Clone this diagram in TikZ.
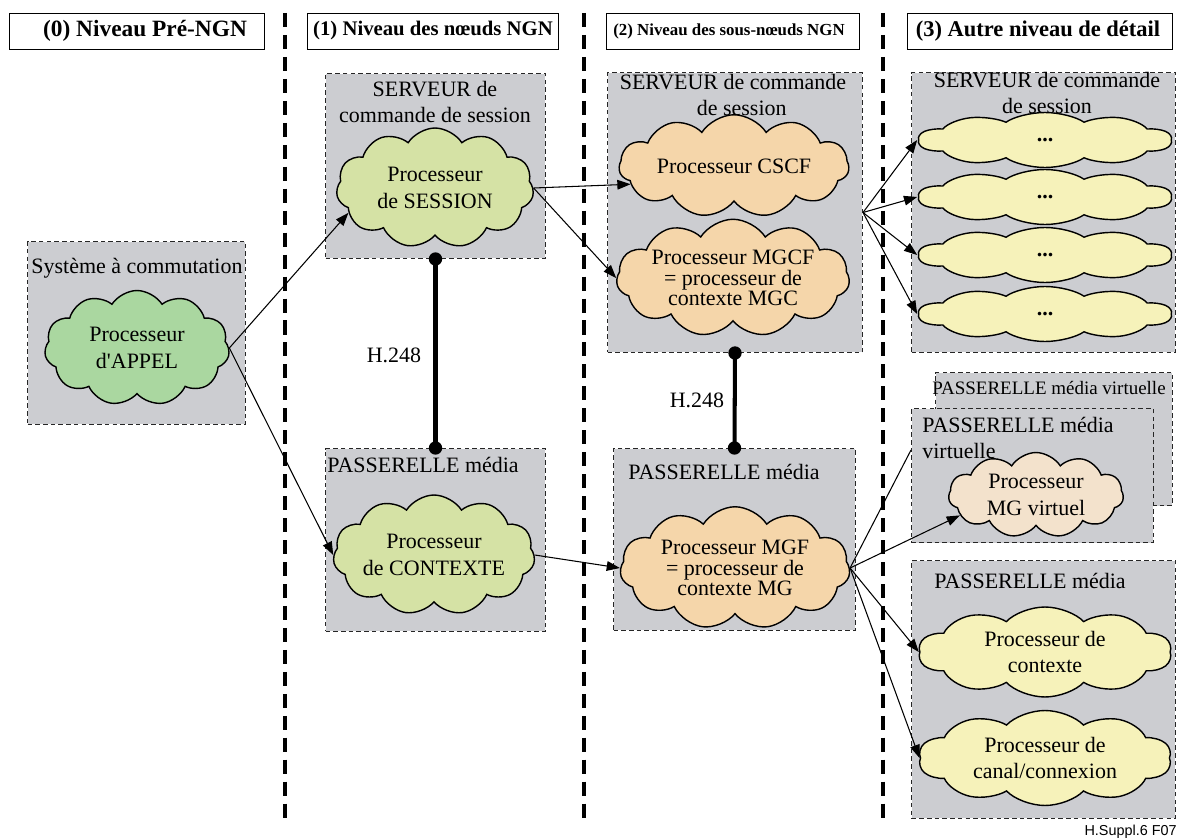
\documentclass[tikz,border=0pt]{standalone}
\usepackage{fontspec}
\setmainfont{Liberation Serif}
\newfontfamily\tagfont{Liberation Sans}
\usetikzlibrary{shapes.symbols,arrows.meta}

\definecolor{panelgray}{RGB}{204,205,209}
\definecolor{callgreen}{RGB}{170,215,160}
\definecolor{nodegreen}{RGB}{213,226,165}
\definecolor{subtan}{RGB}{245,214,170}
\definecolor{detailyellow}{RGB}{246,242,186}
\definecolor{virtualtan}{RGB}{243,226,204}

\newcommand\txtsize{\fontsize{12.5}{15}\selectfont}
\newcommand\tightsize{\fontsize{12.5}{11.6}\selectfont}

\begin{document}
\begin{tikzpicture}[x=0.02cm,y=-0.02cm,
  panel/.style={rectangle, draw=black!85, fill=panelgray, line width=0.6pt,
    dash pattern=on 2.6pt off 1.8pt, inner sep=0pt, anchor=north west},
  header/.style={rectangle, draw=black, line width=0.8pt, fill=white,
    inner sep=0pt, anchor=north west, minimum height=0.72cm},
  proc/.style={cloud, cloud puffs=11, cloud puff arc=115, cloud ignores aspect,
    draw=black, line width=0.8pt, inner sep=0pt, align=center, font=\txtsize},
  % a cloud drawn in a horizontally stretched frame
  longproc/.style={proc, cloud puffs=10, cloud puff arc=115, transform shape},
  lbl/.style={inner sep=0pt, align=center, font=\txtsize},
  link/.style={-{Triangle[length=7.5pt,width=5.5pt]}, line width=0.6pt},
  plain/.style={line width=0.6pt},
  sep/.style={line width=1.8pt, dash pattern=on 8pt off 4.5pt},
  h248/.style={line width=2.3pt},
  dot/.style={fill=black}
]
\useasboundingbox (0,0) rectangle (1181,838);

% level separators
\draw[sep] (285,13) -- (285,820);
\draw[sep] (584,13) -- (584,820);
\draw[sep] (883,13) -- (883,820);

% level headers
\node[header, minimum width=5.10cm] (h0) at (9,13) {};
\node[header, minimum width=5.02cm] (h1) at (307,13) {};
\node[header, minimum width=5.06cm] (h2) at (606,13) {};
\node[header, minimum width=5.30cm] (h3) at (907,13) {};
\node[inner sep=0pt, font=\fontsize{13.3}{15}\selectfont\bfseries] (t0) at (145,31) {(0) Niveau Pré-NGN};
\node[inner sep=0pt, font=\fontsize{11.8}{14}\selectfont\bfseries] (t1) at (433,31) {(1) Niveau des nœuds NGN};
\node[inner sep=0pt, font=\fontsize{9.6}{12}\selectfont\bfseries] (t2) at (729,31) {(2) Niveau des sous-nœuds NGN};
\node[inner sep=0pt, font=\fontsize{12.8}{15}\selectfont\bfseries] (t3) at (1038,31) {(3) Autre niveau de détail};

% system panels
\node[panel, minimum width=4.36cm, minimum height=3.66cm] (sys) at (27,241) {};
\node[panel, minimum width=4.40cm, minimum height=3.70cm] (srv1) at (325,73) {};
\node[panel, minimum width=4.40cm, minimum height=3.66cm] (pas1) at (325,448) {};
\node[panel, minimum width=5.10cm, minimum height=5.60cm] (srv2) at (607,72) {};
\node[panel, minimum width=4.84cm, minimum height=3.64cm] (pas2) at (613,448) {};
\node[panel, minimum width=5.28cm, minimum height=5.60cm] (srv3) at (911,72) {};
\node[panel, minimum width=4.74cm, minimum height=2.66cm] (vback) at (935,372) {};
\node[panel, minimum width=4.84cm, minimum height=2.68cm] (vfront) at (911,408) {};
\node[panel, minimum width=5.28cm, minimum height=5.16cm] (pas3) at (911,560) {};

% panel titles
\node[lbl] (sysl) at (137,268) {Système à commutation};
\node[lbl] (srv1l) at (435,102) {SERVEUR de\\commande de session};
\node[lbl, anchor=west] (pas1l) at (327,465) {PASSERELLE média};
\node[lbl] (srv2l) at (733,95) {SERVEUR de commande\\\hspace*{10pt}de session};
\node[lbl] (pas2l) at (724,472) {PASSERELLE média};
\node[lbl] (srv3l) at (1047,93) {SERVEUR de commande\\de session};
\node[lbl, font=\fontsize{10.8}{13}\selectfont] (vbackl) at (1049,388) {PASSERELLE média virtuelle};
\node[lbl, anchor=west, align=left] (vfrontl) at (922,438) {PASSERELLE média\\virtuelle};
\node[lbl] (pas3l) at (1030,581) {PASSERELLE média};

% processors
\node[proc, fill=callgreen, minimum width=3.7cm, minimum height=2.3cm] (appel) at (137,348) {Processeur\\d\textquotesingle APPEL};
\node[proc, fill=nodegreen, minimum width=3.95cm, minimum height=2.4cm] (session) at (435,188) {Processeur\\de SESSION};
\node[proc, fill=nodegreen, minimum width=3.95cm, minimum height=2.4cm] (contexte) at (434,555) {Processeur\\de CONTEXTE};
\node[proc, fill=subtan, minimum width=4.6cm, minimum height=2.05cm] (cscf) at (734,166) {Processeur CSCF};
\node[proc, fill=subtan, minimum width=4.5cm, minimum height=2.35cm, font=\tightsize] (mgcf) at (733,278) {Processeur MGCF\\= processeur de\\contexte MGC};
\node[proc, fill=subtan, minimum width=4.6cm, minimum height=2.45cm, font=\tightsize] (mgf) at (735,568) {Processeur MGF\\= processeur de\\contexte MG};
\node[proc, fill=virtualtan, minimum width=3.5cm, minimum height=1.7cm] (mgv) at (1036,495) {Processeur\\MG virtuel};

% detail-level processors: stretched clouds with their texts laid on top
\begin{scope}[shift={(1045,140)}, xscale=2.2]
  \node[longproc, fill=detailyellow, minimum width=2.31cm, minimum height=1.1cm] (d1) at (0,0) {};
\end{scope}
\begin{scope}[shift={(1045,197)}, xscale=2.2]
  \node[longproc, fill=detailyellow, minimum width=2.31cm, minimum height=1.1cm] (d2) at (0,0) {};
\end{scope}
\begin{scope}[shift={(1045,255)}, xscale=2.2]
  \node[longproc, fill=detailyellow, minimum width=2.31cm, minimum height=1.1cm] (d3) at (0,0) {};
\end{scope}
\begin{scope}[shift={(1045,314)}, xscale=2.2]
  \node[longproc, fill=detailyellow, minimum width=2.31cm, minimum height=1.1cm] (d4) at (0,0) {};
\end{scope}
\begin{scope}[shift={(1045,652)}, xscale=1.45]
  \node[longproc, fill=detailyellow, minimum width=3.5cm, minimum height=1.8cm] (ctx) at (0,0) {};
\end{scope}
\begin{scope}[shift={(1045,758)}, xscale=1.45]
  \node[longproc, fill=detailyellow, minimum width=3.5cm, minimum height=1.9cm] (canal) at (0,0) {};
\end{scope}
\node[lbl] (d1t) at (d1.center) {\textbf{...}};
\node[lbl] (d2t) at (d2.center) {\textbf{...}};
\node[lbl] (d3t) at (d3.center) {\textbf{...}};
\node[lbl] (d4t) at (d4.center) {\textbf{...}};
\node[lbl] (ctxt) at (ctx.center) {Processeur de\\contexte};
\node[lbl] (canalt) at (canal.center) {Processeur de\\canal/connexion};

% decomposition arrows
\draw[link] (appel.east) -- (session.196);
\draw[link] (appel.east) -- (contexte.west);
\draw[link] (session.east) -- (cscf.190);
\draw[link] (session.east) -- (mgcf.west);
\draw[link] (contexte.east) -- (mgf.west);
\draw[link] (srv2.east) -- (d1.west);
\draw[link] (srv2.east) -- (d2.west);
\draw[link] (srv2.east) -- (d3.west);
\draw[link] (srv2.east) -- (d4.west);
\coordinate (vedge) at (911,450);
\draw[plain] (mgf.east) -- (vedge);
\draw[link] (mgf.east) -- (mgv.195);
\draw[link] (mgf.east) -- (ctx.west);
\draw[link] (mgf.east) -- (canal.west);

% H.248 control links
\draw[h248] (srv1.south) -- (pas1.north);
\fill[dot] (srv1.south) circle[radius=3.8pt];
\fill[dot] (pas1.north) circle[radius=3.8pt];
\node[lbl] (h248a) at (394,355) {H.248};
\draw[h248] (srv2.south) -- (pas2.north);
\fill[dot] (srv2.south) circle[radius=3.8pt];
\fill[dot] (pas2.north) circle[radius=3.8pt];
\node[lbl] (h248b) at (697,400) {H.248};

% figure tag
\node[inner sep=0pt, anchor=base east, font=\tagfont\fontsize{8.2}{9}\selectfont] (tag) at (1177,835) {H.Suppl.6 F07};
\end{tikzpicture}
\end{document}
